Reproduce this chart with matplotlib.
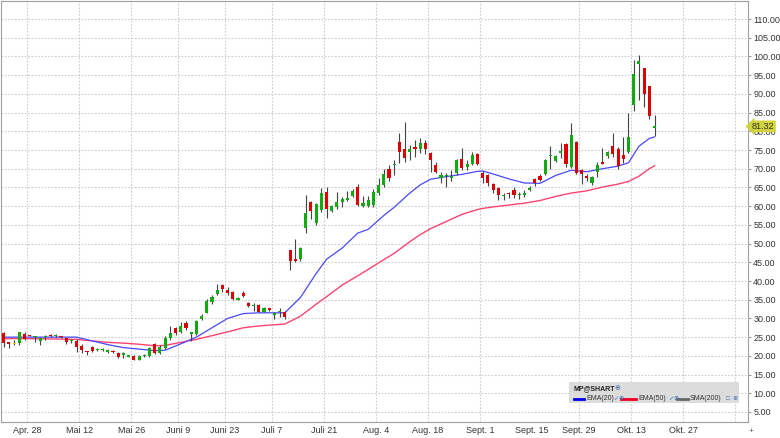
import matplotlib.pyplot as plt
from matplotlib.patches import Rectangle
from matplotlib.lines import Line2D

plt.rcParams['font.family'] = ['Liberation Sans', 'DejaVu Sans']

# daily candles (open, high, low, close), one per trading day
opens = [26.0, 23.6, 23.2, 23.4, 25.8, 25.5, 25.0, 24.0, 25.0, 25.3,
         25.2, 25.1, 24.7, 23.9, 24.0, 22.6, 21.2, 22.3, 21.5, 21.5,
         20.9, 21.3, 20.7, 20.3, 19.8, 19.9, 18.9, 19.9, 20.0, 23.2,
         20.8, 22.0, 24.7, 27.4, 26.5, 28.9, 25.9, 25.8, 29.8, 31.5,
         34.5, 36.5, 38.9, 37.6, 37.1, 34.9, 36.7, 34.2, 33.2, 33.6,
         31.8, 32.7, 31.0, 31.7, 31.8, 48.3, 45.8, 45.8, 54.1, 61.0,
         55.6, 59.0, 63.9, 58.8, 59.7, 61.0, 61.6, 62.7, 65.2, 60.1,
         60.0, 60.3, 63.6, 65.6, 69.8, 71.0, 77.2, 75.2, 74.5, 75.7,
         75.2, 77.0, 74.1, 71.0, 67.4, 68.0, 67.6, 68.8, 72.5, 70.4,
         71.4, 73.9, 68.9, 68.3, 65.9, 64.8, 62.6, 63.5, 64.3, 62.9,
         63.0, 64.4, 67.2, 68.0, 68.5, 73.3, 72.1, 74.3, 76.6, 70.5,
         77.2, 69.6, 68.0, 66.1, 69.2, 71.9, 73.4, 76.1, 75.2, 73.7,
         74.5, 87.0, 97.9, 96.8, 92.1, 80.8]
highs = [26.3, 23.8, 24.2, 26.5, 26.3, 25.7, 25.2, 25.1, 25.5, 25.8,
         25.8, 25.3, 24.9, 24.4, 24.4, 23.1, 21.3, 22.7, 22.0, 22.1,
         21.7, 21.6, 20.9, 21.0, 20.1, 20.1, 20.2, 20.6, 22.3, 23.4,
         23.0, 25.2, 28.0, 27.7, 29.1, 29.2, 26.5, 29.6, 31.2, 35.2,
         36.3, 39.1, 39.3, 38.5, 37.4, 35.6, 37.2, 34.5, 34.0, 33.8,
         33.0, 32.9, 31.6, 32.7, 32.1, 48.4, 51.1, 49.2, 63.0, 61.5,
         60.8, 64.8, 65.2, 60.4, 63.9, 62.4, 64.1, 64.5, 66.0, 62.7,
         62.7, 64.5, 67.4, 70.0, 70.9, 72.4, 79.5, 82.6, 76.4, 77.6,
         78.1, 77.6, 74.6, 71.9, 69.2, 68.8, 69.6, 72.5, 75.5, 72.4,
         74.6, 74.2, 69.4, 68.5, 66.2, 65.0, 63.6, 63.9, 65.0, 63.8,
         64.3, 65.4, 67.6, 68.7, 72.5, 76.0, 73.6, 76.9, 77.0, 82.1,
         77.4, 70.0, 68.6, 68.1, 71.8, 75.5, 74.8, 79.5, 75.7, 78.4,
         84.8, 99.0, 100.4, 97.0, 92.2, 84.3]
lows = [22.4, 22.1, 23.0, 22.9, 24.3, 25.2, 23.6, 22.9, 24.2, 25.1,
        25.1, 24.8, 23.3, 23.5, 21.1, 20.7, 20.3, 20.9, 21.2, 21.2,
        20.8, 20.7, 19.4, 19.4, 19.6, 18.8, 18.8, 19.6, 19.8, 20.6,
        20.5, 21.8, 24.2, 25.6, 26.2, 27.0, 23.9, 25.6, 29.6, 31.4,
        33.9, 36.2, 37.1, 36.3, 34.9, 34.8, 35.6, 33.1, 31.9, 31.6,
        31.6, 32.0, 29.9, 30.4, 29.8, 42.9, 45.1, 45.4, 52.9, 56.7,
        55.0, 58.5, 56.8, 58.5, 59.3, 59.9, 61.4, 62.5, 60.0, 59.8,
        59.8, 59.8, 63.0, 65.2, 66.7, 68.4, 71.6, 71.9, 72.3, 73.2,
        74.3, 73.9, 69.2, 68.8, 66.1, 65.0, 66.7, 68.3, 69.6, 69.6,
        71.0, 71.0, 66.1, 65.4, 63.6, 61.6, 61.6, 62.1, 62.1, 62.0,
        62.5, 64.0, 65.4, 66.8, 68.2, 70.0, 71.8, 72.9, 70.5, 70.2,
        68.7, 66.0, 66.8, 65.6, 67.9, 71.2, 73.0, 73.2, 69.9, 71.6,
        74.3, 85.5, 88.5, 86.6, 83.4, 78.7]
closes = [23.4, 23.2, 23.2, 26.3, 24.5, 25.3, 25.1, 24.9, 25.1, 25.2,
          25.5, 25.0, 23.8, 24.1, 22.4, 21.6, 21.0, 21.4, 21.7, 21.7,
          21.6, 21.0, 19.6, 20.5, 20.0, 19.0, 19.9, 20.1, 22.0, 20.8,
          22.3, 24.7, 26.2, 26.0, 28.0, 27.4, 26.1, 29.4, 30.7, 34.7,
          35.8, 37.6, 37.9, 36.9, 35.1, 35.4, 36.0, 33.3, 33.4, 31.8,
          32.7, 32.2, 31.2, 31.9, 30.5, 45.4, 45.3, 48.7, 58.3, 58.8,
          60.5, 63.4, 59.2, 60.1, 61.0, 61.8, 62.2, 64.1, 60.3, 60.9,
          61.6, 63.9, 65.6, 68.6, 67.6, 71.3, 74.5, 72.9, 75.2, 75.3,
          76.8, 75.2, 72.3, 69.2, 68.3, 68.1, 67.9, 72.3, 70.1, 71.4,
          73.7, 71.3, 67.4, 66.1, 64.3, 63.0, 62.8, 63.3, 63.0, 63.1,
          63.6, 64.6, 66.1, 67.0, 72.3, 73.5, 73.4, 74.6, 71.4, 79.0,
          68.9, 68.6, 67.4, 67.9, 71.0, 71.4, 74.5, 73.9, 70.7, 72.5,
          78.5, 95.3, 98.8, 90.0, 84.1, 81.32]

# moving averages at these candle numbers
ma_idx = [0, 5, 10, 14, 17, 20, 23, 26, 29, 31, 34, 37, 40, 43, 46, 49, 52, 54, 57, 60,
          62, 65, 68, 70, 73, 75, 78, 80, 82, 85, 88, 91, 92, 94, 97, 100, 103, 106, 109, 112,
          115, 118, 120, 122, 124, 125]
ema20 = [25.0, 25.0, 25.0, 25.0, 24.0, 23.0, 22.2, 21.8, 21.4, 21.5, 23.2, 25.0, 27.5, 30.0,
         31.3, 31.5, 31.5, 31.5, 35.6, 42.0, 45.8, 48.8, 52.8, 53.8, 57.5, 59.7, 63.5, 65.7,
         67.2, 67.9, 68.5, 69.3, 69.4, 68.6, 67.3, 66.2, 66.1, 68.2, 69.6, 69.2, 70.0, 70.7,
         71.6, 76.0, 78.1, 78.5]
ema50 = [24.6, 24.6, 24.5, 24.4, 24.0, 23.6, 23.4, 23.1, 22.7, 22.8, 23.6, 24.4, 25.4, 26.4,
         27.5, 28.0, 28.3, 28.5, 30.6, 33.8, 35.8, 38.9, 41.4, 43.1, 45.7, 47.4, 50.5, 52.4,
         54.0, 55.9, 57.8, 59.1, 59.4, 59.8, 60.3, 60.8, 61.5, 62.6, 63.5, 64.1, 65.1, 65.9,
         66.6, 68.0, 70.0, 70.8]

tick_pos = [4.5, 14.5, 24.5, 33.5, 42.5, 51.5, 61.5, 71.5, 81.5, 91.5, 101.5, 110.5, 120.5, 130.5, 140.5]
tick_labels = ['Apr. 28', 'Mai 12', 'Mai 26', 'Juni 9', 'Juni 23', 'Juli 7', 'Juli 21', 'Aug. 4',
               'Aug. 18', 'Sept. 1', 'Sept. 15', 'Sept. 29', 'Okt. 13', 'Okt. 27', '']
y_ticks = list(range(5, 115, 5))

fig = plt.figure(figsize=(7.8, 4.38), dpi=100)
ax = fig.add_axes([0.0013, 0.0365, 0.9573, 0.961])

# grid
ax.set_xticks(tick_pos)
ax.set_xticklabels(tick_labels)
ax.set_yticks(y_ticks)
ax.set_yticklabels(['%.2f' % v for v in y_ticks])
ax.grid(color='#cccccc', linestyle=(0, (1.5, 1.5)), linewidth=0.8)
ax.get_xgridlines()[10].set_visible(False)
ax.set_axisbelow(True)

# moving averages
ax.plot(ma_idx, ema50, color='#ff4470', linewidth=1.0, zorder=2)
ax.plot(ma_idx, ema20, color='#4848ff', linewidth=0.9, zorder=2)

# candles
x = list(range(len(closes)))
body_col = []
for o, c in zip(opens, closes):
    if c > o:
        body_col.append('#11aa11')
    elif c < o:
        body_col.append('#dd0000')
    else:
        body_col.append('#e8d800')
ax.vlines(x, lows, highs, color='#444444', linewidth=0.8, zorder=3)
bottoms = [min(o, c) for o, c in zip(opens, closes)]
heights = [max(abs(c - o), 0.35) for o, c in zip(opens, closes)]
ax.bar(x, heights, bottom=bottoms, width=0.6, color=body_col, linewidth=0, zorder=4)

ax.set_xlim(-0.52, 142.9)
ax.set_ylim(2.32, 114.8)

ax.yaxis.tick_right()
ax.tick_params(axis='y', labelsize=6.5, labelcolor='#333333', length=2, color='#999999', pad=2)
ax.tick_params(axis='x', labelsize=6.5, labelcolor='#333333', length=0, pad=3)
for s in ax.spines.values():
    s.set_color('#a0a0a0')
    s.set_linewidth(0.8)

# last price marker
ax.annotate('%.2f' % closes[-1], xy=(1.0, closes[-1]), xycoords=('axes fraction', 'data'),
            xytext=(3, 0), textcoords='offset points', ha='left', va='center',
            fontsize=6.5, color='#333333', zorder=10,
            bbox=dict(boxstyle='larrow,pad=0.15', fc='#d2d23a', ec='none'))

fig.text(749 / 780, 1 - 431 / 438, '+', fontsize=6, color='#555555', ha='left', va='center')

# legend box
W, H = 780.0, 438.0
fig.add_artist(Rectangle((569 / W, 1 - 403 / H), 170 / W, 21 / H, transform=fig.transFigure,
                         facecolor='#dcdcdc', edgecolor='none', zorder=5))
fig.text(574 / W, 1 - 389 / H, 'MP@SHART', fontsize=5, fontweight='bold', color='#222222',
         va='center', zorder=6)
fig.text(614 / W, 1 - 389 / H, '\u2295', fontsize=5, color='#3a6fb5', va='center', zorder=6)
row_y = 1 - 399 / H
# line start, line end, text, mark, gear
items = [(574, 584, 586, 613, 618, '#0000ee', 'EMA(20)', '\u2713'),
         (621, 636, 638, 668, 673, '#ee0022', 'EMA(50)', '\u2713'),
         (677, 688, 690, 726, 732, '#666666', 'SMA(200)', '\u25a1')]
for x0, x1, xt, xm, xg, col, name, mark in items:
    fig.add_artist(Line2D([x0 / W, x1 / W], [row_y, row_y], color=col, linewidth=2,
                          transform=fig.transFigure, zorder=6))
    fig.text(xt / W, row_y, name, fontsize=5, color='#333333', va='center', zorder=6)
    fig.text(xm / W, row_y, mark, fontsize=4.5, color='#3a6fb5', va='center', zorder=6)
    fig.text(xg / W, row_y, '\u2295', fontsize=4.5, color='#3a6fb5', va='center', zorder=6)

fig.savefig('out.png', dpi=100)
